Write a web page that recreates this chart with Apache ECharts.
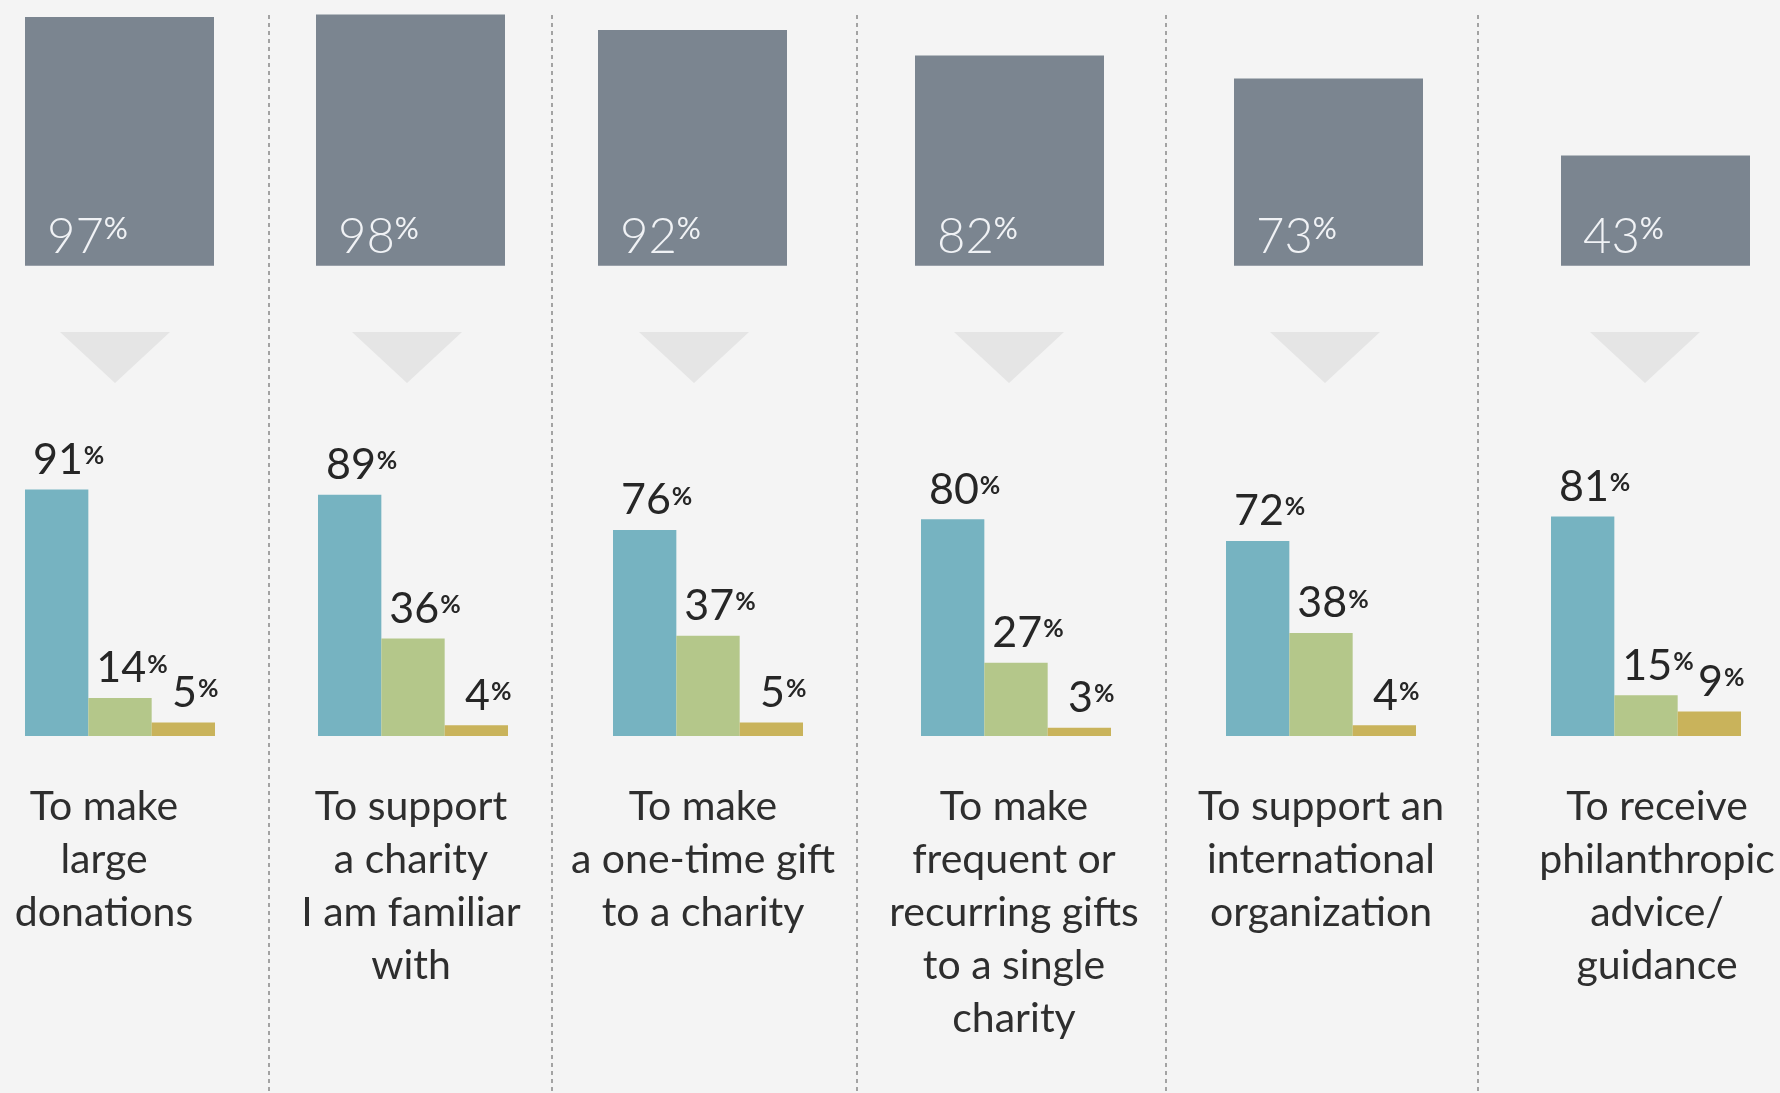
<!DOCTYPE html>
<html>
<head>
<meta charset="utf-8">
<script src="https://cdn.jsdelivr.net/npm/echarts@6/dist/echarts.min.js"></script>
<style>
html,body{margin:0;padding:0;background:#f4f4f4;}
#c{width:1780px;height:1093px;}
</style>
</head>
<body>
<div id="c"></div>
<script>
// ---- data ----
const categories = [
  "To make\nlarge\ndonations",
  "To support\na charity\nI am familiar\nwith",
  "To make\na one-time gift\nto a charity",
  "To make\nfrequent or\nrecurring gifts\nto a single\ncharity",
  "To support an\ninternational\norganization",
  "To receive\nphilanthropic\nadvice/\nguidance"
];
const overallValues = [97, 98, 92, 82, 73, 43];
const blueValues = [91, 89, 76, 80, 72, 81];
const greenValues = [14, 36, 37, 27, 38, 15];
const goldValues = [5, 4, 5, 3, 4, 9];

// ---- layout ----
const topBoxLeft = [25, 316, 598, 915, 1234, 1561];
const topBoxWidth = 189;
const topGridTop = 9.4, topGridHeight = 256.3;
const barGroupLeft = [25, 318, 613, 921, 1226, 1551];
const barGroupWidth = 190;
const botGridTop = 465, botGridHeight = 271;
const labelShift = [-16, -2, -5, -2, 0, 11];
const arrowX = [115, 407, 694, 1009, 1325, 1645];
const dividerX = [269, 552, 857, 1166, 1478];

const COLORS = { overall: '#7b8590', blue: '#76b3c1', green: '#b4c78a', gold: '#c9b35b' };
const FONT = 'Lato, "Open Sans", sans-serif';

const chart = echarts.init(document.getElementById('c'));

const grid = [], xAxis = [], yAxis = [], series = [];

const valueLabel = {
  show: true,
  position: 'top',
  distance: 8,
  offset: [12, 0],
  formatter: p => '{v|' + p.value + '}{p|%}',
  rich: {
    v: { fontSize: 43, fontFamily: FONT, color: '#262626' },
    p: { fontSize: 25, fontWeight: 'bold', fontFamily: FONT, color: '#262626', padding: [0, 0, 8, 1] }
  }
};

categories.forEach((cat, i) => {
  const gt = 2 * i, gb = 2 * i + 1;
  grid.push({ left: topBoxLeft[i], width: topBoxWidth, top: topGridTop, height: topGridHeight });
  grid.push({ left: barGroupLeft[i], width: barGroupWidth, top: botGridTop, height: botGridHeight });

  xAxis.push({ type: 'category', gridIndex: gt, data: [cat], show: false });
  const s = labelShift[i];
  xAxis.push({
    type: 'category', gridIndex: gb, data: [cat],
    axisLine: { show: false }, axisTick: { show: false },
    axisLabel: {
      interval: 0, margin: 44, fontSize: 41, lineHeight: 53,
      fontFamily: FONT, color: '#2e2e2e', align: 'center',
      padding: s < 0 ? [0, -2 * s, 0, 0] : [0, 0, 0, 2 * s]
    }
  });
  yAxis.push({ type: 'value', gridIndex: gt, min: 0, max: 100, show: false });
  yAxis.push({ type: 'value', gridIndex: gb, min: 0, max: 100, show: false });

  series.push({
    type: 'bar', name: 'Overall', xAxisIndex: gt, yAxisIndex: gt,
    data: [overallValues[i]], barWidth: '100%',
    itemStyle: { color: COLORS.overall },
    label: {
      show: true, position: 'insideBottomLeft', distance: 0, offset: [22, -4],
      textBorderWidth: 0,
      formatter: p => '{v|' + p.value + '}{p|%}',
      rich: {
        v: { fontSize: 49, fontWeight: 300, fontFamily: FONT, color: '#f0f2f5' },
        p: { fontSize: 30, fontWeight: 'normal', fontFamily: FONT, color: '#f0f2f5', verticalAlign: 'top', padding: [2, 0, 0, 0] }
      }
    }
  });
  [[blueValues, COLORS.blue, 'A'], [greenValues, COLORS.green, 'B'], [goldValues, COLORS.gold, 'C']].forEach(([arr, col, nm]) => {
    series.push({
      type: 'bar', name: nm, xAxisIndex: gb, yAxisIndex: gb,
      data: [arr[i]], barGap: '0%', barCategoryGap: '0%',
      itemStyle: { color: col },
      label: valueLabel
    });
  });
});

const graphic = [];
dividerX.forEach(x => {
  graphic.push({
    type: 'line', silent: true, z: -1,
    shape: { x1: x, y1: 15, x2: x, y2: 1093 },
    style: { stroke: '#8f8f8f', lineWidth: 1.6, lineDash: [4, 4] }
  });
});
arrowX.forEach(x => {
  graphic.push({
    type: 'polygon', silent: true, z: -1,
    shape: { points: [[x - 55, 332], [x + 55, 332], [x, 383]] },
    style: { fill: '#e5e5e5' }
  });
});

chart.setOption({
  backgroundColor: '#f4f4f4',
  animation: false,
  textStyle: { fontFamily: FONT },
  grid, xAxis, yAxis, series, graphic
});
</script>
</body>
</html>
